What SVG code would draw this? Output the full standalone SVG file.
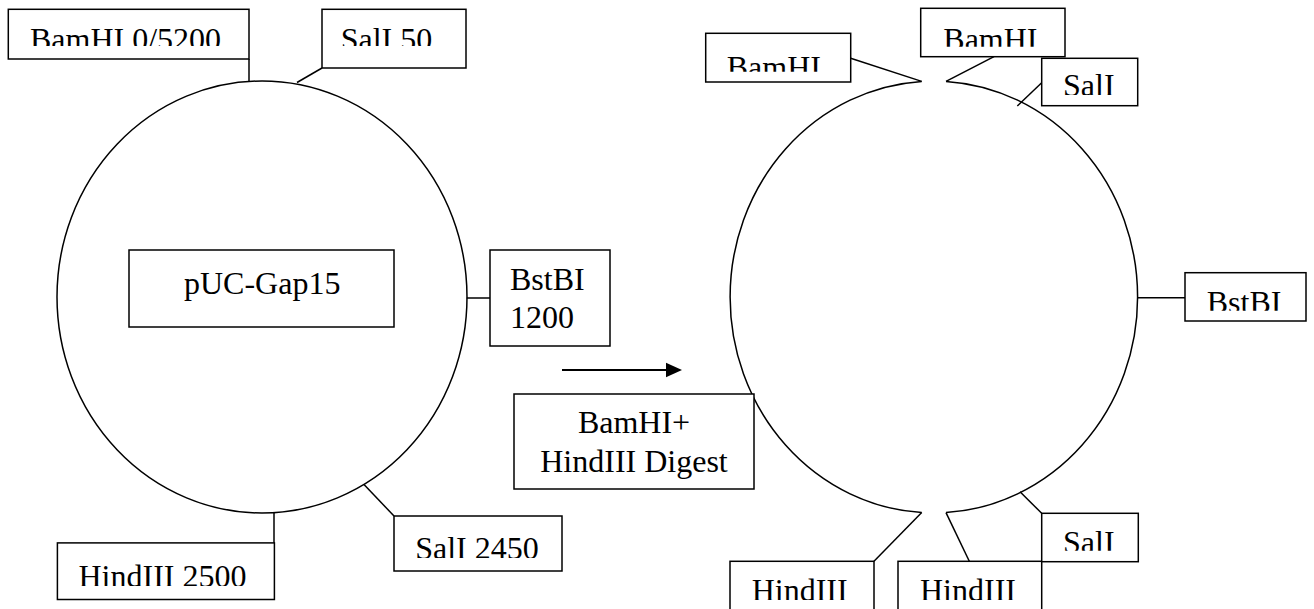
<svg xmlns="http://www.w3.org/2000/svg" width="1314" height="609" viewBox="0 0 1314 609">
<style>
.box{fill:#fff;stroke:#000;stroke-width:1.5}
.plasmid{fill:none;stroke:#000;stroke-width:1.5}
.conn{fill:none;stroke:#000;stroke-width:1.5}
.lbl{font-family:"Liberation Serif","Times New Roman",serif;font-size:32px;fill:#000}
</style>
<defs>
<clipPath id="c1"><rect x="9" y="10" width="239" height="36"/></clipPath>
<clipPath id="c2"><rect x="323" y="10" width="142" height="36"/></clipPath>
<clipPath id="c3"><rect x="58" y="544" width="215" height="42"/></clipPath>
<clipPath id="c4"><rect x="395" y="517" width="166" height="41"/></clipPath>
<clipPath id="c5"><rect x="706" y="34" width="144" height="37.7"/></clipPath>
<clipPath id="c6"><rect x="921" y="9" width="143" height="37.7"/></clipPath>
<clipPath id="c7"><rect x="1042" y="59" width="95" height="36"/></clipPath>
<clipPath id="c8"><rect x="1186" y="273" width="119" height="37.7"/></clipPath>
<clipPath id="c9"><rect x="731" y="562" width="142" height="38"/></clipPath>
<clipPath id="c10"><rect x="899" y="562" width="142" height="38"/></clipPath>
<clipPath id="c11"><rect x="1042" y="514" width="96" height="36.7"/></clipPath>
</defs>
<rect width="1314" height="609" fill="#fff"/>

<g id="plasmid-left">
<ellipse class="plasmid" cx="262" cy="297" rx="205" ry="216"/>
</g>
<g id="plasmid-right">
<path class="plasmid" d="M921.7,81.4 A204,216 0 0 0 921.7,512.6"/>
<path class="plasmid" d="M946,81.4 A204,216 0 0 1 946,512.6"/>
</g>

<g id="connectors">
<line class="conn" x1="249" y1="59" x2="249" y2="81"/>
<line class="conn" x1="322" y1="68" x2="297" y2="82.5"/>
<line class="conn" x1="466.7" y1="298" x2="490" y2="298"/>
<line class="conn" x1="274" y1="543" x2="274" y2="512.5"/>
<line class="conn" x1="394" y1="516" x2="364" y2="484.5"/>
<line class="conn" x1="850.7" y1="58.3" x2="921.7" y2="81.4"/>
<line class="conn" x1="994" y1="56.7" x2="946" y2="81.4"/>
<line class="conn" x1="1041.7" y1="82.7" x2="1017.3" y2="106"/>
<line class="conn" x1="1138" y1="297.7" x2="1185" y2="297.7"/>
<line class="conn" x1="874" y1="561.3" x2="921.7" y2="512.6"/>
<line class="conn" x1="969.3" y1="561.3" x2="946" y2="512.6"/>
<line class="conn" x1="1041.7" y1="513.3" x2="1020" y2="491.7"/>
<line x1="562" y1="370" x2="668" y2="370" stroke="#000" stroke-width="1.8"/>
<polygon points="666,362.7 682,370 666,377.3" fill="#000"/>
</g>

<g id="digest-label">
<rect class="box" x="514" y="394" width="240" height="95"/>
<text class="lbl" x="634" y="433" text-anchor="middle">BamHI+</text>
<text class="lbl" x="634" y="472" text-anchor="middle">HindIII Digest</text>
</g>

<g id="pUC-Gap15">
<rect class="box" x="129" y="250" width="265" height="77"/>
<text class="lbl" x="184" y="294">pUC-Gap15</text>
</g>

<g id="BamHI-0-5200">
<rect class="box" x="8.3" y="9.3" width="240.7" height="49.7"/>
<text class="lbl" x="30" y="49.5" clip-path="url(#c1)">BamHI 0/5200</text>
</g>
<g id="SalI-50">
<rect class="box" x="322" y="9.3" width="144" height="58.7"/>
<text class="lbl" x="340.7" y="49.5" clip-path="url(#c2)">SalI 50</text>
</g>
<g id="BstBI-1200">
<rect class="box" x="490" y="250" width="120" height="96"/>
<text class="lbl" x="510" y="290">BstBI</text>
<text class="lbl" x="510" y="328">1200</text>
</g>
<g id="HindIII-2500">
<rect class="box" x="57.4" y="542.9" width="217" height="56.6"/>
<text class="lbl" x="78.5" y="586.5" clip-path="url(#c3)">HindIII 2500</text>
</g>
<g id="SalI-2450">
<rect class="box" x="394" y="516" width="168" height="55"/>
<text class="lbl" x="415.2" y="558.5" clip-path="url(#c4)">SalI 2450</text>
</g>

<g id="BamHI-left">
<rect class="box" x="705.7" y="33.3" width="145" height="48.7"/>
<text class="lbl" x="726.7" y="78" clip-path="url(#c5)">BamHI</text>
</g>
<g id="BamHI-right">
<rect class="box" x="920.7" y="8.3" width="144.3" height="48.4"/>
<text class="lbl" x="943.3" y="49.5" clip-path="url(#c6)">BamHI</text>
</g>
<g id="SalI-top">
<rect class="box" x="1041.7" y="58.3" width="96" height="47.4"/>
<text class="lbl" x="1063" y="96.2" clip-path="url(#c7)">SalI</text>
</g>
<g id="BstBI">
<rect class="box" x="1185" y="272.7" width="121" height="48.3"/>
<text class="lbl" x="1206.7" y="313" clip-path="url(#c8)">BstBI</text>
</g>
<g id="HindIII-left">
<rect class="box" x="730" y="561.3" width="144" height="60"/>
<text class="lbl" x="751.7" y="601.2" clip-path="url(#c9)">HindIII</text>
</g>
<g id="HindIII-right">
<rect class="box" x="898" y="561.3" width="143.7" height="60"/>
<text class="lbl" x="920" y="601.2" clip-path="url(#c10)">HindIII</text>
</g>
<g id="SalI-bottom">
<rect class="box" x="1041.7" y="513.3" width="96.6" height="48.4"/>
<text class="lbl" x="1063" y="553" clip-path="url(#c11)">SalI</text>
</g>
</svg>
